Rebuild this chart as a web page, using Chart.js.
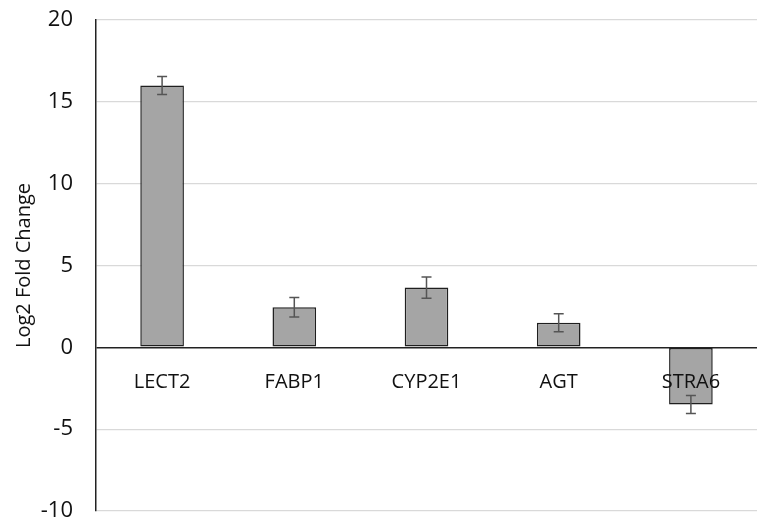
<!DOCTYPE html>
<html>
<head>
<meta charset="utf-8">
<script src="https://cdn.jsdelivr.net/npm/chart.js@4/dist/chart.umd.min.js"></script>
<style>
  html, body { margin: 0; padding: 0; background: #fff; }
  #wrap { position: relative; width: 758px; height: 522px; }
</style>
</head>
<body>
<div id="wrap"><canvas id="myChart"></canvas></div>
<script>
const genes = ['LECT2', 'FABP1', 'CYP2E1', 'AGT', 'STRA6'];
const foldChange = [16.0, 2.45, 3.65, 1.5, -3.5];
const errors = [0.55, 0.6, 0.65, 0.55, 0.55];
const yTicks = [-10, -5, 0, 5, 10, 15, 20];

const FONT = "'Open Sans', 'Liberation Sans', sans-serif";

// error bars drawn on top of the bars
const errorBars = {
  id: 'errorBars',
  afterDatasetsDraw(chart) {
    const { ctx, scales: { x, y } } = chart;
    ctx.save();
    ctx.strokeStyle = '#555555';
    ctx.lineWidth = 1.5;
    foldChange.forEach((v, i) => {
      const cx = x.getPixelForValue(i);
      const top = y.getPixelForValue(v + errors[i]);
      const bot = y.getPixelForValue(v - errors[i]);
      ctx.beginPath();
      ctx.moveTo(cx, top);
      ctx.lineTo(cx, bot);
      ctx.moveTo(cx - 5, top);
      ctx.lineTo(cx + 5, top);
      ctx.moveTo(cx - 5, bot);
      ctx.lineTo(cx + 5, bot);
      ctx.stroke();
    });
    ctx.restore();
  },
};

// category names sit just under the zero line, like excel does
const zeroLabels = {
  id: 'zeroLabels',
  afterDraw(chart) {
    const { ctx, scales: { x, y } } = chart;
    const y0 = y.getPixelForValue(0);
    ctx.save();
    ctx.font = '20px ' + FONT;
    ctx.fillStyle = '#111111';
    ctx.textAlign = 'center';
    ctx.textBaseline = 'middle';
    genes.forEach((g, i) => {
      ctx.fillText(g, x.getPixelForValue(i), y0 + 35);
    });
    ctx.restore();
  },
};

const data = {
  labels: genes,
  datasets: [
    {
      data: foldChange,
      backgroundColor: '#a5a5a5',
      borderColor: '#1f1f1f',
      borderWidth: 1.5,
      borderSkipped: false,
      barPercentage: 0.33,
      categoryPercentage: 1,
    },
  ],
};

const config = {
  type: 'bar',
  data: data,
  options: {
    responsive: true,
    maintainAspectRatio: false,
    animation: false,
    layout: {
      padding: { top: 20, right: 1, bottom: 11, left: 0 },
    },
    plugins: {
      legend: { display: false },
      tooltip: { enabled: false },
    },
    scales: {
      x: {
        display: false,
      },
      y: {
        min: -10,
        max: 20,
        afterBuildTicks: (scale) => {
          scale.ticks = yTicks.map((v) => ({ value: v }));
        },
        afterFit: (scale) => {
          scale.width = 96;
        },
        ticks: {
          font: { family: FONT, size: 22, lineHeight: 1 },
          color: '#111111',
          padding: 0,
        },
        grid: {
          drawTicks: true,
          tickLength: 23,
          tickColor: 'rgba(0,0,0,0)',
          color: (c) => (c.tick && c.tick.value === 0 ? '#222222' : '#d9d9d9'),
          lineWidth: (c) => (c.tick && c.tick.value === 0 ? 1.5 : 1.2),
        },
        border: { display: true, color: '#222222', width: 1.5 },
        title: {
          display: true,
          text: 'Log2 Fold Change',
          font: { family: FONT, size: 20 },
          color: '#111111',
          padding: { top: 12, bottom: 0 },
        },
      },
    },
  },
  plugins: [errorBars, zeroLabels],
};

new Chart(document.getElementById('myChart').getContext('2d'), config);
</script>
</body>
</html>
